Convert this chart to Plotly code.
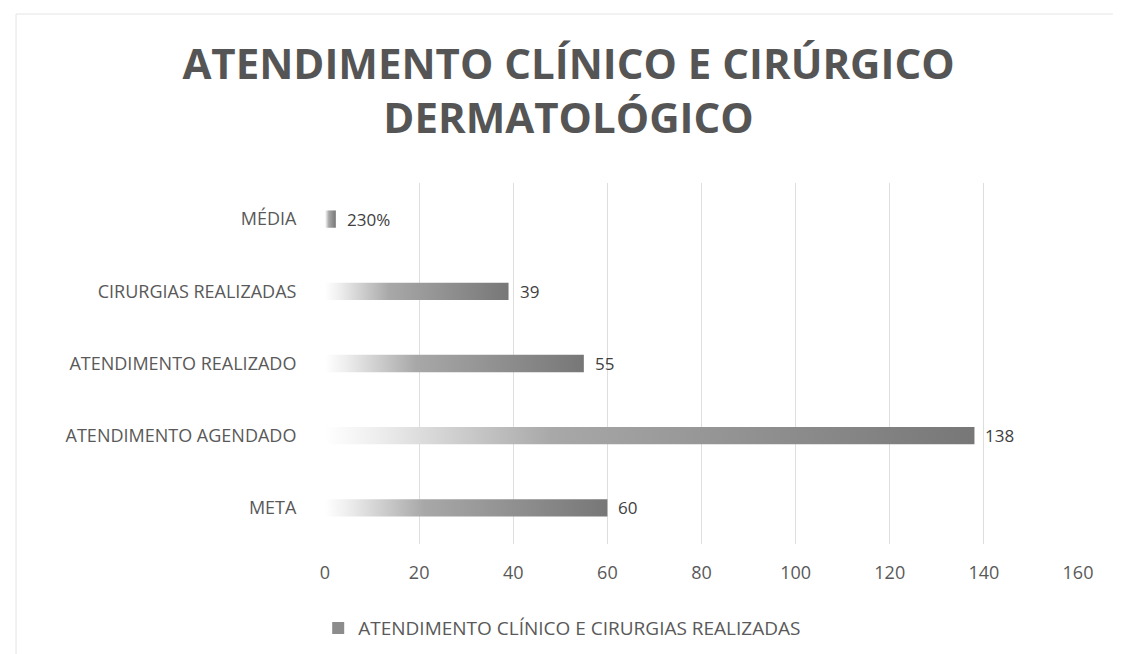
import plotly.graph_objects as go

categories = ["META", "ATENDIMENTO AGENDADO", "ATENDIMENTO REALIZADO", "CIRURGIAS REALIZADAS", "MÉDIA"]
values = [60, 138, 55, 39, 2.3]
value_labels = ["60", "138", "55", "39", "230%"]
series_name = "ATENDIMENTO CLÍNICO E CIRURGIAS REALIZADAS"
x_ticks = [0, 20, 40, 60, 80, 100, 120, 140, 160]

FONT = "Open Sans"
TXT = "#595959"
half = 0.12

fig = go.Figure()
for i, (cat, v) in enumerate(zip(categories, values)):
    fig.add_trace(go.Scatter(
        x=[0, v, v, 0, 0],
        y=[i - half, i - half, i + half, i + half, i - half],
        fill="toself",
        mode="lines",
        line=dict(width=0, color="rgba(0,0,0,0)"),
        fillcolor="#8c8c8c",
        fillgradient=dict(type="horizontal",
                          colorscale=[[0, "rgba(255,255,255,1)"], [0.08, "#eeeeee"],
                                      [0.35, "#a8a8a8"], [1, "#777777"]]),
        name=cat,
        showlegend=False,
        hoverinfo="skip",
    ))

# legend entry (square swatch)
fig.add_trace(go.Scatter(
    x=[None], y=[None], mode="markers",
    marker=dict(symbol="square", size=9, color="#8c8c8c"),
    name=series_name, showlegend=True,
))

for i, (v, lab) in enumerate(zip(values, value_labels)):
    fig.add_annotation(x=v, y=i, text=lab, showarrow=False, xanchor="left",
                       xshift=9, font=dict(family=FONT, size=17, color="#404040"))

fig.update_layout(
    width=1121, height=654,
    paper_bgcolor="white", plot_bgcolor="white",
    margin=dict(l=317, r=51, t=175, b=118),
    title=dict(text="ATENDIMENTO CLÍNICO E CIRÚRGICO<br>DERMATOLÓGICO",
               x=0.5, xanchor="center", y=0.892, yanchor="middle",
               font=dict(family=FONT, size=42, color="#555555", weight="bold")),
    font=dict(family=FONT, size=18, color=TXT),
    xaxis=dict(range=[0, 160], tickvals=x_ticks, showgrid=True, gridcolor="#dedede",
               gridwidth=1, zeroline=False, showline=False, ticks="outside",
               ticklen=12, tickcolor="rgba(0,0,0,0)",
               tickfont=dict(family=FONT, size=18, color=TXT)),
    yaxis=dict(range=[-0.5, 4.5], tickvals=list(range(len(categories))), ticktext=categories,
               showgrid=False, zeroline=False, showline=False, ticks="outside",
               ticklen=24, tickcolor="rgba(0,0,0,0)",
               tickfont=dict(family=FONT, size=18, color=TXT)),
    legend=dict(orientation="h", x=0.315, xanchor="center", y=-0.233, yanchor="middle",
                font=dict(family=FONT, size=19, color=TXT), itemwidth=30,
                itemsizing="constant"),
    shapes=[dict(type="rect", xref="paper", yref="paper",
                 x0=(8 - 317) / 753, x1=(1116 - 317) / 753,
                 y0=(536 - 648) / 361, y1=(536 - 6) / 361,
                 line=dict(color="#e4e4e4", width=1), layer="below")],
)

fig.write_html("out.html")
